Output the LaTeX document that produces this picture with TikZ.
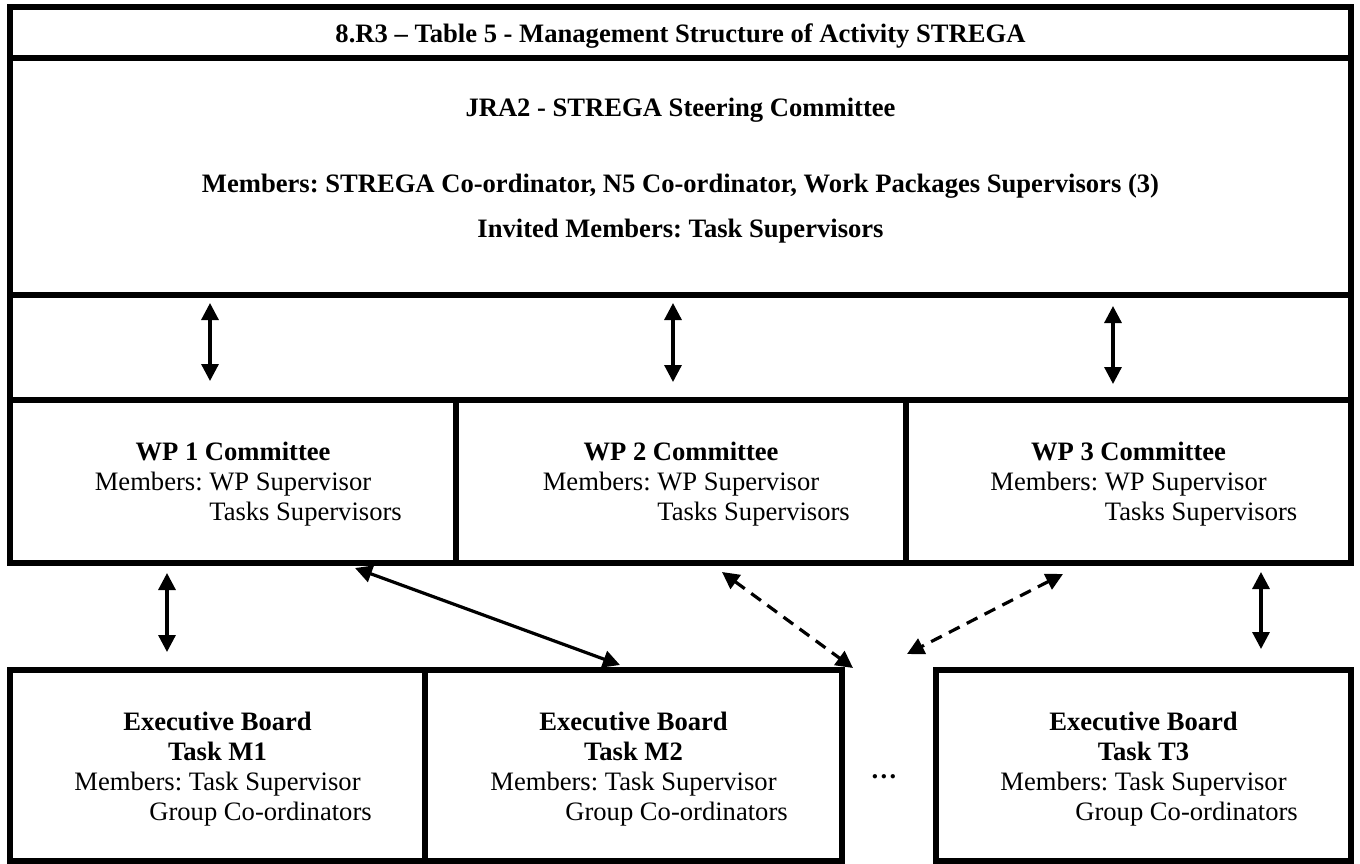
\documentclass[tikz,border=0pt]{standalone}
\usepackage{fontspec}
\setmainfont{Liberation Serif}
\frenchspacing
\usetikzlibrary{arrows.meta,calc}

\tikzset{
  cell/.style={draw, line width=6pt, rectangle, anchor=north west, inner sep=0pt, outer sep=0pt},
  txt/.style={anchor=base, inner sep=0pt, font=\fontsize{26.6}{30}\selectfont},
  btxt/.style={txt, font=\fontsize{26.6}{30}\selectfont\bfseries},
  subline/.style={txt, anchor=base west},
  link/.style={line width=3.2pt, {Triangle[length=17pt,width=17pt]}-{Triangle[length=17pt,width=17pt]}},
  dlink/.style={link, dash pattern=on 12pt off 8pt}
}

\begin{document}
\begin{tikzpicture}[x=1pt,y=-1pt]
\useasboundingbox (0,0) rectangle (1360,863);

% frame rows
\node[cell, minimum width=1341pt, minimum height=51pt]  (title) at (10,7)   {};
\node[cell, minimum width=1341pt, minimum height=237pt] (steer) at (10,58)  {};
\node[cell, minimum width=1341pt, minimum height=105pt] (band)  at (10,295) {};

% work package committees
\node[cell, minimum width=446pt, minimum height=163pt] (wp1) at (10,400)  {};
\node[cell, minimum width=450pt, minimum height=163pt] (wp2) at (456,400) {};
\node[cell, minimum width=445pt, minimum height=163pt] (wp3) at (906,400) {};

% executive boards
\node[cell, minimum width=415pt, minimum height=191pt] (eb1) at (10,670)  {};
\node[cell, minimum width=417pt, minimum height=191pt] (eb2) at (425,670) {};
\node[cell, minimum width=415pt, minimum height=191pt] (eb3) at (936,670) {};

% header texts
\node[btxt] (ttl) at (680.5,42) {8.R3 – Table 5 - Management Structure of Activity STREGA};
\node[btxt] (st1) at (680.5,116) {JRA2 - STREGA Steering Committee};
\node[btxt] (st2) at (680.5,192) {Members: STREGA Co-ordinator, N5 Co-ordinator, Work Packages Supervisors (3)};
\node[btxt] (st3) at (680.5,237) {Invited Members: Task Supervisors};

% committee texts
\node[btxt] (wp1a) at (233,460) {WP 1 Committee};
\node[txt]  (wp1b) at (233,490) {Members: WP Supervisor};
\node[subline] (wp1c) at ($(wp1b.base west)+(114.5,30)$) {Tasks Supervisors};

\node[btxt] (wp2a) at (681,460) {WP 2 Committee};
\node[txt]  (wp2b) at (681,490) {Members: WP Supervisor};
\node[subline] (wp2c) at ($(wp2b.base west)+(114.5,30)$) {Tasks Supervisors};

\node[btxt] (wp3a) at (1128.5,460) {WP 3 Committee};
\node[txt]  (wp3b) at (1128.5,490) {Members: WP Supervisor};
\node[subline] (wp3c) at ($(wp3b.base west)+(114.5,30)$) {Tasks Supervisors};

% board texts
\node[btxt] (eb1a) at (217.5,730) {Executive Board};
\node[btxt] (eb1b) at (217.5,760) {Task M1};
\node[txt]  (eb1c) at (217.5,790) {Members: Task Supervisor};
\node[subline] (eb1d) at ($(eb1c.base west)+(75,30)$) {Group Co-ordinators};

\node[btxt] (eb2a) at (633.5,730) {Executive Board};
\node[btxt] (eb2b) at (633.5,760) {Task M2};
\node[txt]  (eb2c) at (633.5,790) {Members: Task Supervisor};
\node[subline] (eb2d) at ($(eb2c.base west)+(75,30)$) {Group Co-ordinators};

\node[btxt] (eb3a) at (1143.5,730) {Executive Board};
\node[btxt] (eb3b) at (1143.5,760) {Task T3};
\node[txt]  (eb3c) at (1143.5,790) {Members: Task Supervisor};
\node[subline] (eb3d) at ($(eb3c.base west)+(75,30)$) {Group Co-ordinators};

\node[btxt] (more) at (884,778) {…};

% connector ends
\coordinate (s1) at (210,303);  \coordinate (w1t) at (210,381);
\coordinate (s2) at (673,303);  \coordinate (w2t) at (673,382);
\coordinate (s3) at (1113,306); \coordinate (w3t) at (1113,384);
\coordinate (w1b) at (167,573);  \coordinate (e1t) at (167,652);
\coordinate (w3b) at (1261,572); \coordinate (e3t) at (1261,649);
\coordinate (w1r) at (355,568);  \coordinate (e2t) at (620,665);
\coordinate (w2b) at (722,572);  \coordinate (mt1) at (853,668);
\coordinate (w3l) at (1063,574); \coordinate (mt2) at (907,654);

% connectors
\draw[link] (s1) -- (w1t);
\draw[link] (s2) -- (w2t);
\draw[link] (s3) -- (w3t);
\draw[link] (w1b) -- (e1t);
\draw[link] (w3b) -- (e3t);
\draw[link] (w1r) -- (e2t);
\draw[dlink] (w2b) -- (mt1);
\draw[dlink] (w3l) -- (mt2);
\end{tikzpicture}
\end{document}
